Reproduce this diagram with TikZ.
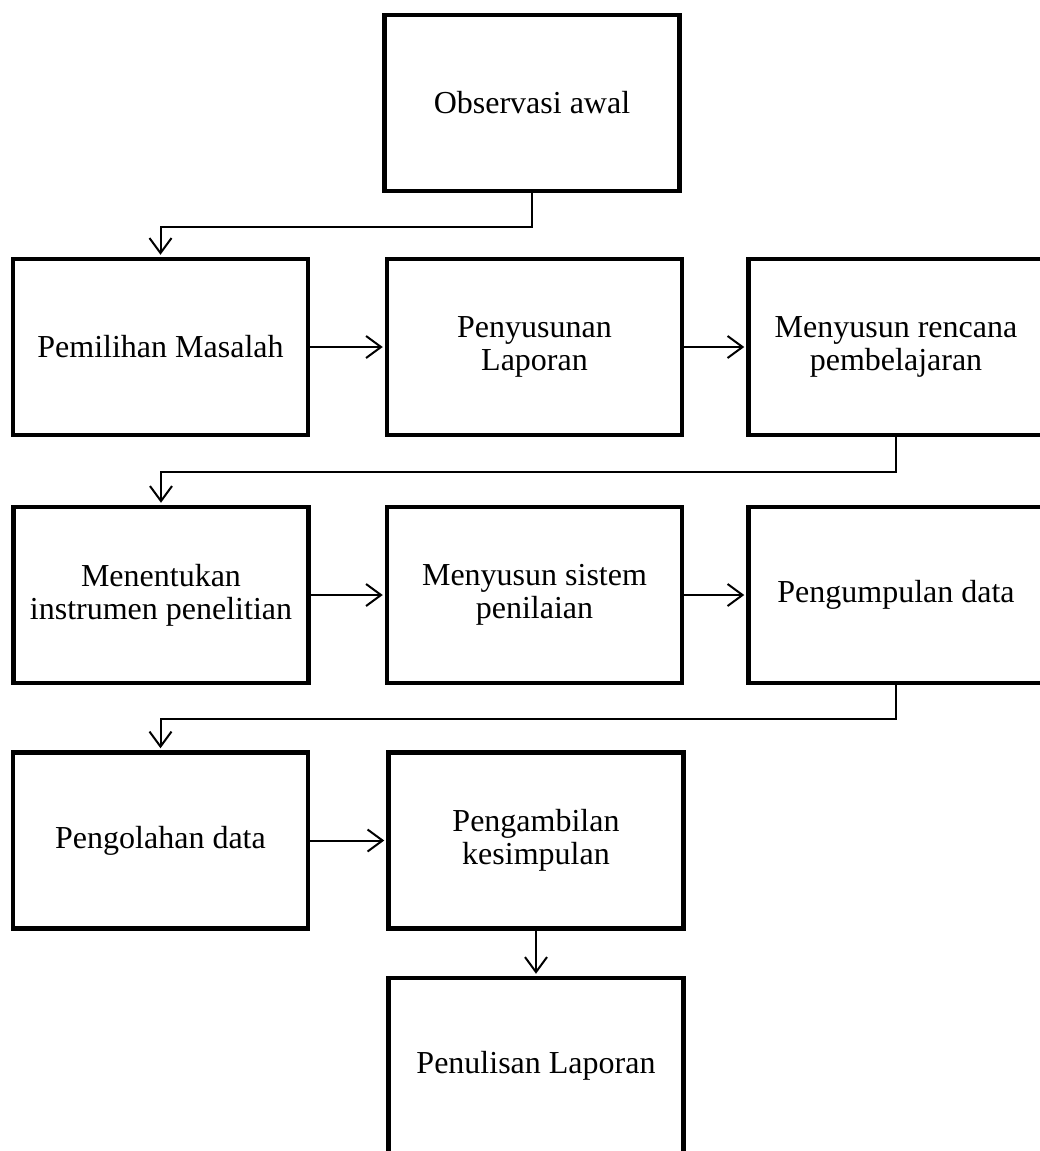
\documentclass[tikz,border=0pt]{standalone}
\usepackage{fontspec}
\setmainfont{Liberation Serif}
\usetikzlibrary{arrows.meta}
\begin{document}
\begin{tikzpicture}[x=1pt,y=-1pt,
  box/.style={draw=black,line width=4.5pt,minimum width=295pt,minimum height=176pt,
    inner sep=0pt,align=center,font=\fontsize{32}{33}\selectfont},
  conn/.style={line width=2pt,-{Straight Barb[length=15pt,width=22pt,line width=2pt]},shorten >=2pt}]
\useasboundingbox (0,0) rectangle (1040,1151);
\clip (0,0) rectangle (1040,1151);
\fill[white] (0,0) rectangle (1040,1151);
\node[box] (obs) at (532,103) {Observasi awal};
\node[box] (pem) at (160.5,347) {Pemilihan Masalah};
\node[box] (pen) at (534.5,347) {Penyusunan\\Laporan};
\node[box] (mrc) at (896,347) {Menyusun rencana\\pembelajaran};
\node[box] (men) at (161,595) {Menentukan\\instrumen penelitian};
\node[box] (mss) at (534.5,595) {Menyusun sistem\\penilaian};
\node[box] (pgd) at (896,595) {Pengumpulan data};
\node[box] (pol) at (160.5,840.5) {Pengolahan data};
\node[box] (pak) at (536,840.5) {Pengambilan\\kesimpulan};
\node[box] (pls) at (536,1066) {Penulisan Laporan};
\draw[conn] (obs.south) -- ++(0,34) -| (pem.north);
\draw[conn] (pem.east) -- (pen.west);
\draw[conn] (pen.east) -- (mrc.west);
\draw[conn] (mrc.south) -- ++(0,35) -| (men.north);
\draw[conn] (men.east) -- (mss.west);
\draw[conn] (mss.east) -- (pgd.west);
\draw[conn] (pgd.south) -- ++(0,34) -| (pol.north);
\draw[conn] (pol.east) -- (pak.west);
\draw[conn] (pak.south) -- (pls.north);
\end{tikzpicture}
\end{document}
